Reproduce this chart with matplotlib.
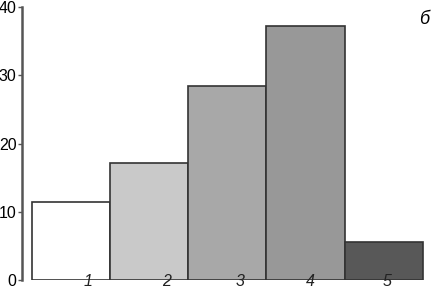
import matplotlib.pyplot as plt

# bar data
groups = [1, 2, 3, 4, 5]
values = [11.5, 17.1, 28.4, 37.2, 5.5]
colors = ['#ffffff', '#c9c9c9', '#a8a8a8', '#989898', '#585858']
label_pos = [1.22, 2.22, 3.16, 4.06, 5.05]
labels = ['1', '2', '3', '4', '5']

plt.rcParams['font.family'] = 'Liberation Sans'

fig = plt.figure(figsize=(4.35, 2.89), dpi=100)
ax = fig.add_axes([0.0506, 0.0311, 0.9494, 0.9446])

ax.bar(groups, values, width=1.0, color=colors, edgecolor='#333333', linewidth=1.2, zorder=2)

ax.set_xlim(0.376, 5.657)
ax.set_ylim(0, 40)
ax.set_yticks([0, 10, 20, 30, 40])
ax.set_xticks([])

for s in ['top', 'right', 'bottom']:
    ax.spines[s].set_visible(False)
ax.spines['left'].set_color('#555555')
ax.spines['left'].set_linewidth(1.8)
ax.tick_params(axis='y', length=3, width=1, color='#555555', pad=1, labelsize=11.5)

# group numbers sit on the baseline, over the bars
for x, lab in zip(label_pos, labels):
    ax.text(x, -0.25, lab, fontstyle='italic', fontsize=11.5, ha='center',
            va='center', zorder=5, clip_on=False, color='#222222')

ax.text(0.985, 0.985, 'б', transform=ax.transAxes, fontstyle='italic',
        fontsize=13, ha='right', va='top')

fig.savefig('out.png', dpi=100)
